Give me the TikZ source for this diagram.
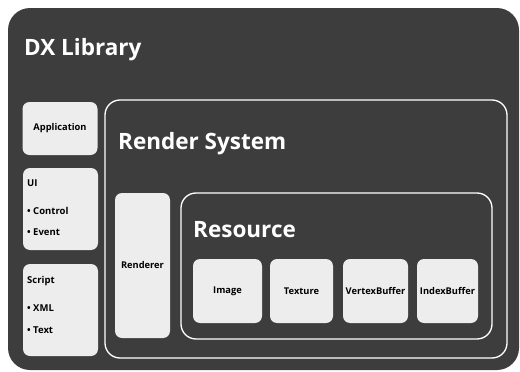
\documentclass[tikz,border=0pt]{standalone}
\usepackage{fontspec}
\setmainfont{Open Sans}
\usepackage{tikz}
\tikzset{
  PanelBox/.style = {rounded corners=7pt, fill=white!93!black, draw=none, inner sep=0pt, align=center, font=\fontsize{9.3}{10}\selectfont\bfseries},
  FrameBox/.style = {rounded corners=15pt, draw=white, line width=1.3pt, inner sep=0pt},
  TitleText/.style = {white, anchor=west, inner sep=0pt, font=\fontsize{22.5}{24}\selectfont\bfseries},
  ItemText/.style = {black, anchor=west, inner sep=0pt, font=\fontsize{9.5}{10}\selectfont\bfseries}
}
\begin{document}
\begin{tikzpicture}[x=1pt, y=-1pt]
  \useasboundingbox (0,0) rectangle (520,372);
  \node [rounded corners=22pt, fill=black!76, inner sep=0pt, minimum width=511pt, minimum height=362pt] (dxlib) at (263.5,189) {};
  \node [TitleText] (dxTitle) at (24,50) {DX Library};

  \node [PanelBox, minimum width=75pt, minimum height=53pt] (app) at (60,128.5) {Application};
  \node [PanelBox, minimum width=75pt, minimum height=82pt] (ui) at (60.5,209) {};
  \node [ItemText] (uiTitle) at (27,183) {UI};
  \node [ItemText] (uiControl) at (27,211) {• Control};
  \node [ItemText] (uiEvent) at (27,232) {• Event};
  \node [PanelBox, minimum width=75pt, minimum height=92pt] (script) at (60.5,310) {};
  \node [ItemText] (scTitle) at (27,281) {Script};
  \node [ItemText] (scXml) at (27,308) {• XML};
  \node [ItemText] (scText) at (27,330) {• Text};

  \node [FrameBox, minimum width=402pt, minimum height=258pt] (render) at (306,229) {};
  \node [TitleText] (renderTitle) at (118,144) {Render System};
  \node [PanelBox, minimum width=55pt, minimum height=145pt] (renderer) at (142.5,265.5) {Renderer};

  \node [FrameBox, minimum width=311pt, minimum height=146pt] (resource) at (336.5,266) {};
  \node [TitleText] (resTitle) at (193,230) {Resource};
  \node [PanelBox, minimum width=69pt, minimum height=64pt] (image) at (227.5,291) {Image};
  \node [PanelBox, minimum width=63pt, minimum height=64pt] (texture) at (301.5,291) {Texture};
  \node [PanelBox, minimum width=65pt, minimum height=64pt] (vbuf) at (375.5,291) {VertexBuffer};
  \node [PanelBox, minimum width=61pt, minimum height=64pt] (ibuf) at (447.5,291) {IndexBuffer};
\end{tikzpicture}
\end{document}
